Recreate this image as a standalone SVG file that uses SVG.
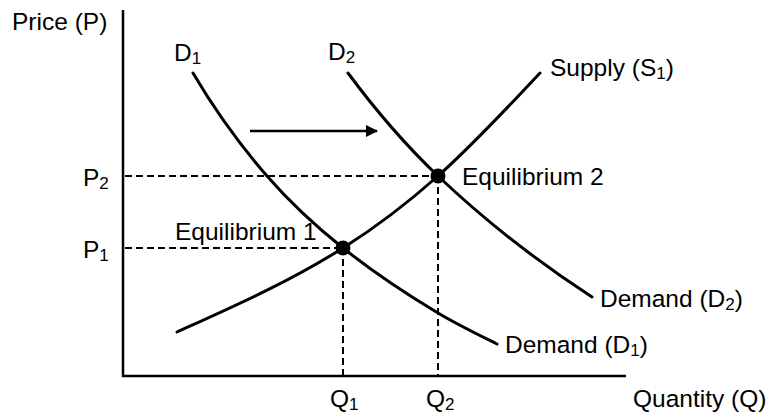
<svg xmlns="http://www.w3.org/2000/svg" width="771" height="416" viewBox="0 0 771 416">
<defs>
<style>
.t{font-family:"Liberation Sans",Arial,Helvetica,sans-serif;font-size:24.5px;fill:#000}
.s{font-size:17px}
.ax{stroke:#000;stroke-width:2.5;fill:none}
.cv{stroke:#000;stroke-width:3;fill:none;stroke-linecap:round}
.dash{stroke:#000;stroke-width:2;fill:none;stroke-dasharray:7 4}
</style>
<marker id="ah" viewBox="0 0 12 12" refX="11" refY="6" markerWidth="12" markerHeight="12" markerUnits="userSpaceOnUse" orient="auto">
<path d="M0,0 L12,6 L0,12 Z" fill="#000"/>
</marker>
</defs>
<rect width="771" height="416" fill="#fff"/>
<g id="axes">
<line class="ax" x1="123" y1="10" x2="123" y2="377"/>
<line class="ax" x1="122" y1="376" x2="626" y2="376"/>
</g>
<g id="guides">
<line class="dash" x1="125" y1="176" x2="438" y2="176"/>
<line class="dash" x1="125" y1="248" x2="343" y2="248"/>
<line class="dash" x1="343" y1="248" x2="343" y2="376"/>
<line class="dash" x1="438" y1="176" x2="438" y2="376"/>
</g>
<g id="connectors">
<path id="supply" class="cv" d="M177,332 C232.3,307 287.7,282.8 343,248 C374.7,228 406.3,204.2 438,176 C472,145.7 506,109.4 540,73"/>
<path id="demand1" class="cv" d="M193,73 C217.7,115 242.3,147.6 267,176 C292.3,205.1 317.7,227.8 343,248 C374.7,273.3 406.3,294 438,313 C457.7,324.8 477.3,334.2 497,344"/>
<path id="demand2" class="cv" d="M348,73 C378,113.5 408,147.5 438,176 C489.3,224.8 540.7,263.6 592,297"/>
<line id="shift" x1="250" y1="131" x2="377" y2="131" stroke="#000" stroke-width="2.5" marker-end="url(#ah)"/>
</g>
<g id="eq1"><circle cx="343" cy="248" r="7.5" fill="#000"/><text class="t" x="175" y="240">Equilibrium 1</text></g>
<g id="eq2"><circle cx="438" cy="176" r="7.5" fill="#000"/><text class="t" x="462" y="185">Equilibrium 2</text></g>
<g id="labels">
<text class="t" x="12" y="30">Price (P)</text>
<text class="t" x="174" y="61">D<tspan class="s" dy="3">1</tspan></text>
<text class="t" x="328" y="60">D<tspan class="s" dy="3">2</tspan></text>
<text class="t" x="550" y="76">Supply (S<tspan class="s" dy="3">1</tspan><tspan dy="-3">)</tspan></text>
<text class="t" x="83" y="186">P<tspan class="s" dy="3">2</tspan></text>
<text class="t" x="83" y="258">P<tspan class="s" dy="3">1</tspan></text>
<text class="t" x="600" y="307">Demand (D<tspan class="s" dy="3">2</tspan><tspan dy="-3">)</tspan></text>
<text class="t" x="505" y="353">Demand (D<tspan class="s" dy="3">1</tspan><tspan dy="-3">)</tspan></text>
<text class="t" x="330" y="407">Q<tspan class="s" dy="3">1</tspan></text>
<text class="t" x="426" y="407">Q<tspan class="s" dy="3">2</tspan></text>
<text class="t" x="633" y="407">Quantity (Q)</text>
</g>
</svg>
